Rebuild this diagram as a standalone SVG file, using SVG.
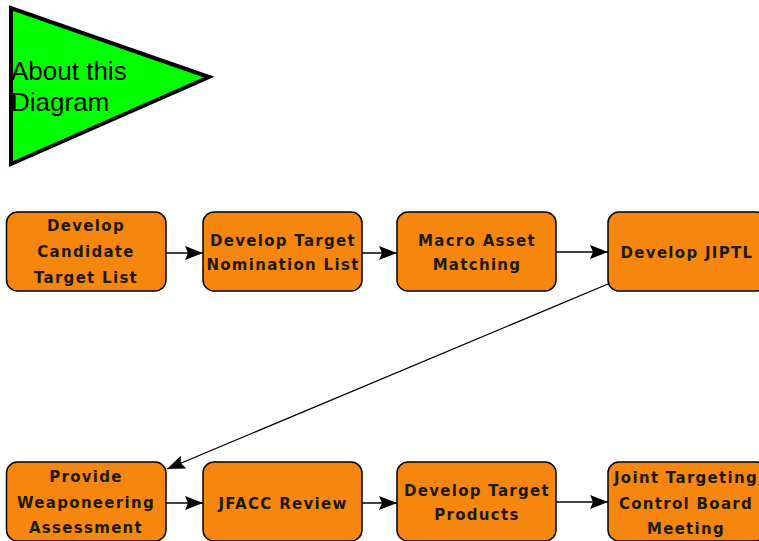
<svg xmlns="http://www.w3.org/2000/svg" width="759" height="541" viewBox="0 0 759 541">
<defs>
<marker id="arr" viewBox="0 0 18 14" refX="18" refY="7" markerWidth="18" markerHeight="14" markerUnits="userSpaceOnUse" orient="auto">
<path d="M0,0 L18,7 L0,14 L3,7 Z" fill="#000"/>
</marker>
<style>
.box{fill:#F7860F;stroke:#000;stroke-width:1.5}
.lbl{font-family:"DejaVu Sans",sans-serif;font-weight:bold;font-size:15px;letter-spacing:1.3px;fill:#1a1a00;text-anchor:middle}
.conn{stroke:#000;stroke-width:1.3;fill:none;marker-end:url(#arr)}
.about{font-family:"Liberation Sans",Arial,sans-serif;font-size:26px;fill:#000}
</style>
</defs>
<rect width="759" height="541" fill="#fff"/>
<g id="about">
<polygon points="11,8 11,164 209,77" fill="#00FF00" stroke="#000" stroke-width="4" stroke-linejoin="miter"/>
<text class="about" x="11" y="80">About this</text>
<text class="about" x="11" y="111">Diagram</text>
</g>
<g id="connectors">
<line class="conn" x1="166" y1="253" x2="203" y2="253"/>
<line class="conn" x1="362" y1="253" x2="397" y2="253"/>
<line class="conn" x1="556" y1="252" x2="608" y2="252"/>
<line class="conn" x1="608" y1="284" x2="167" y2="469"/>
<line class="conn" x1="166" y1="503" x2="203" y2="503"/>
<line class="conn" x1="362" y1="503" x2="397" y2="503"/>
<line class="conn" x1="556" y1="502" x2="608" y2="502"/>
</g>
<g id="n1">
<rect class="box" x="6.5" y="212" width="159.5" height="79" rx="11"/>
<text class="lbl" x="86" y="231">Develop</text>
<text class="lbl" x="86" y="257">Candidate</text>
<text class="lbl" x="86" y="283">Target List</text>
</g>
<g id="n2">
<rect class="box" x="203" y="212" width="159" height="79" rx="11"/>
<text class="lbl" x="283" y="246">Develop Target</text>
<text class="lbl" x="283" y="270">Nomination List</text>
</g>
<g id="n3">
<rect class="box" x="397" y="212" width="159" height="79" rx="11"/>
<text class="lbl" x="477" y="246">Macro Asset</text>
<text class="lbl" x="477" y="270">Matching</text>
</g>
<g id="n4">
<rect class="box" x="608" y="212" width="159" height="79" rx="11"/>
<text class="lbl" x="687" y="258">Develop JIPTL</text>
</g>
<g id="n5">
<rect class="box" x="6.5" y="462" width="159.5" height="79" rx="11"/>
<text class="lbl" x="86" y="482">Provide</text>
<text class="lbl" x="86" y="508">Weaponeering</text>
<text class="lbl" x="86" y="533">Assessment</text>
</g>
<g id="n6">
<rect class="box" x="203" y="462" width="159" height="79" rx="11"/>
<text class="lbl" x="283" y="509">JFACC Review</text>
</g>
<g id="n7">
<rect class="box" x="397" y="462" width="159" height="79" rx="11"/>
<text class="lbl" x="477" y="496">Develop Target</text>
<text class="lbl" x="477" y="520">Products</text>
</g>
<g id="n8">
<rect class="box" x="608" y="462" width="159" height="79" rx="11"/>
<text class="lbl" x="686" y="483">Joint Targeting</text>
<text class="lbl" x="686" y="509">Control Board</text>
<text class="lbl" x="686" y="534">Meeting</text>
</g>
</svg>
